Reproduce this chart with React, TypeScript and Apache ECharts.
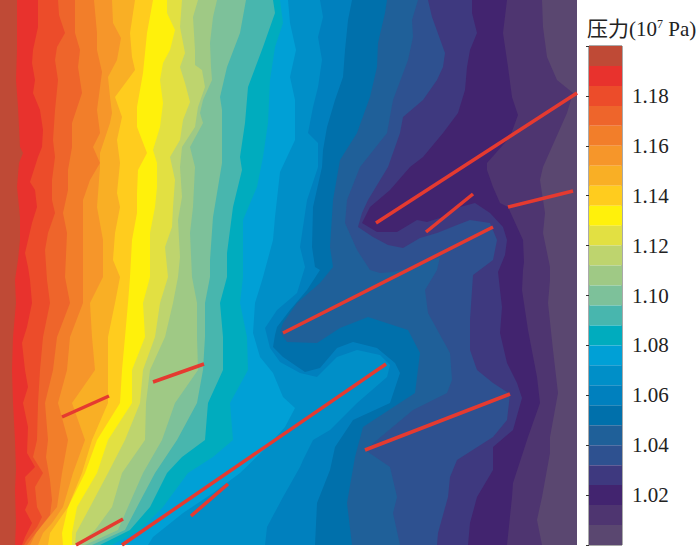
import React, { useEffect, useRef } from "react";
import * as echarts from "echarts";

const bandColors = ['#BF4A36','#E8322D','#EC4C2A','#EE652B','#F27E2A','#F6962A','#F9AF25','#FFCC1E','#FFF10B','#E2E042','#BED46E','#9FC985','#7DC19A','#48B6AE','#00ACBE','#00A0D6','#008FC8','#0080BE','#0070AB','#1F6099','#2E5190','#3E397F','#42246F','#4E3570','#5A4770'];
const pressureMax = 1.2;
const pressureMin = 1.0;
const bandStep = 0.008;
const fieldWidth = 577;
const fieldHeight = 545;

const contour1 = [[17,0],[17,50],[16,80],[18,107],[20,147],[23,153],[19,163],[17,187],[20,217],[20,240],[18,260],[15,280],[16,303],[13,337],[12,370],[13,403],[15,440],[16,470],[15,490],[16,523],[15,545]];
const contour2 = [[38,0],[38,27],[33,50],[32,63],[35,80],[33,93],[40,110],[43,130],[42,147],[38,157],[30,182],[35,190],[37,207],[32,223],[25,253],[28,267],[30,280],[32,303],[27,327],[22,343],[25,370],[28,387],[23,403],[28,427],[27,453],[35,467],[25,477],[28,503],[25,510],[32,523],[25,537],[22,545]];
const contour3 = [[58,0],[59,15],[65,33],[57,47],[55,60],[58,80],[55,110],[53,140],[55,157],[52,180],[52,200],[55,213],[48,233],[45,250],[47,280],[50,303],[43,337],[40,370],[38,403],[37,440],[33,457],[43,473],[35,487],[37,507],[42,517],[37,527],[27,540],[24,545]];
const contour4 = [[75,0],[75,33],[80,50],[78,67],[82,93],[72,123],[72,147],[68,170],[68,190],[63,213],[67,233],[65,277],[70,303],[57,337],[53,370],[45,403],[48,440],[46,457],[50,480],[52,500],[50,515],[42,525],[32,538],[27,545]];
const contour5 = [[94,0],[97,33],[97,50],[102,72],[97,110],[100,133],[93,147],[100,163],[90,180],[83,200],[83,227],[83,277],[83,303],[70,337],[67,370],[58,403],[68,440],[62,473],[57,507],[36,533],[30,545]];
const contour6 = [[112,0],[113,23],[121,38],[117,60],[108,77],[110,97],[112,113],[110,123],[100,153],[100,167],[97,207],[103,240],[103,277],[90,303],[92,337],[95,370],[72,403],[85,440],[73,473],[63,507],[52,523],[43,533],[38,545]];
const contour7 = [[135,0],[130,33],[132,57],[135,70],[115,97],[122,117],[117,140],[120,163],[117,193],[120,207],[115,233],[113,260],[120,277],[115,303],[108,337],[108,370],[108,403],[92,440],[82,473],[68,507],[50,533],[48,545]];
const contour8 = [[153,0],[147,33],[143,73],[137,107],[137,127],[147,153],[138,170],[137,193],[137,213],[132,240],[130,277],[128,303],[125,337],[122,370],[120,403],[97,440],[85,473],[68,507],[62,533],[63,545]];
const contour9 = [[167,0],[167,13],[175,30],[170,50],[163,63],[160,80],[163,103],[160,127],[153,150],[157,163],[157,187],[155,207],[150,233],[150,277],[143,303],[145,337],[132,370],[132,403],[108,440],[97,473],[77,507],[72,533],[72,545]];
const contour10 = [[182,0],[180,27],[185,53],[180,67],[185,83],[190,102],[183,120],[180,140],[170,157],[175,180],[173,207],[172,227],[165,247],[168,277],[160,303],[155,337],[143,370],[140,403],[125,440],[108,473],[90,507],[76,533],[75,545]];
const contour11 = [[198,0],[193,17],[195,50],[195,65],[202,70],[205,87],[198,107],[195,127],[182,147],[180,167],[182,197],[178,220],[180,257],[178,277],[173,303],[165,337],[150,370],[146,403],[145,440],[122,473],[112,507],[95,530],[78,545]];
const contour12 = [[217,0],[213,17],[210,43],[211,67],[212,80],[203,100],[200,113],[203,123],[190,147],[195,167],[193,207],[190,233],[192,277],[197,303],[197,337],[198,370],[175,403],[162,440],[143,473],[128,507],[118,530],[85,545]];
const contour13 = [[246,0],[240,33],[227,67],[220,97],[222,110],[222,143],[222,163],[217,193],[213,217],[210,260],[210,277],[205,303],[205,337],[203,370],[197,403],[177,440],[155,473],[137,507],[125,530],[92,545]];
const contour14 = [[273,0],[275,13],[263,47],[248,87],[245,123],[240,157],[242,170],[233,207],[227,253],[227,277],[220,303],[223,337],[223,370],[208,403],[205,440],[182,457],[167,473],[150,507],[130,530],[100,545]];
const contour15 = [[280,0],[283,23],[275,47],[270,80],[268,123],[263,157],[257,187],[243,220],[243,277],[240,303],[247,337],[248,370],[230,403],[233,440],[213,457],[188,473],[163,507],[140,530],[112,545]];
const contour16 = [[288,0],[290,23],[296,50],[290,77],[295,100],[295,140],[280,172],[278,190],[275,217],[273,240],[263,277],[260,287],[255,303],[253,333],[260,357],[273,373],[283,397],[295,408],[285,427],[267,447],[240,473],[213,493],[183,513],[153,537],[148,545]];
const contour17 = [[320,0],[323,17],[318,37],[322,60],[318,87],[313,107],[308,133],[318,143],[318,167],[307,200],[300,247],[305,267],[297,293],[277,310],[265,328],[270,348],[280,362],[300,373],[317,377],[337,357],[357,350],[380,355],[390,365],[387,377],[357,403],[330,430],[313,440],[303,460],[300,467],[283,497],[267,527],[265,545]];
const contour18 = [[352,0],[348,20],[345,50],[343,77],[335,100],[327,127],[323,150],[322,167],[313,207],[312,247],[315,267],[320,270],[307,290],[290,310],[277,327],[275,335],[273,347],[283,357],[305,372],[320,368],[337,348],[353,342],[377,348],[395,363],[400,373],[390,403],[353,420],[335,447],[330,470],[317,503],[315,545]];
const contour19 = [[387,0],[385,13],[378,43],[377,67],[370,97],[357,133],[340,160],[333,200],[330,247],[333,267],[320,283],[297,303],[283,323],[280,332],[287,342],[317,343],[340,328],[368,317],[408,330],[420,353],[415,393],[363,427],[355,457],[347,503],[352,545]];
const contour20 = [[418,0],[412,20],[413,37],[408,60],[393,100],[387,133],[360,167],[347,200],[345,223],[357,250],[370,270],[380,273],[393,272],[413,267],[440,257],[437,270],[425,290],[428,313],[450,353],[452,380],[447,393],[413,410],[365,450],[390,467],[397,497],[393,513],[400,545]];
const contour21 = [[428,0],[432,17],[445,53],[443,67],[437,80],[423,100],[403,117],[400,133],[388,167],[368,200],[362,213],[358,227],[373,237],[388,245],[403,248],[420,238],[437,233],[457,225],[470,220],[490,223],[497,240],[493,260],[473,275],[470,320],[470,350],[477,370],[493,383],[510,394],[507,420],[493,437],[457,460],[450,477],[448,497],[438,533],[437,545]];
const contour22 = [[472,0],[472,13],[477,33],[470,50],[467,67],[465,90],[458,113],[443,133],[423,157],[410,167],[390,190],[370,207],[362,223],[377,232],[397,232],[417,220],[427,222],[443,217],[460,207],[475,203],[490,213],[503,227],[507,240],[505,255],[498,272],[500,290],[502,307],[500,333],[507,363],[517,383],[522,398],[513,430],[493,447],[493,470],[477,497],[470,523],[468,545]];
const contour23 = [[507,0],[503,33],[508,67],[512,97],[518,115],[510,137],[487,163],[487,170],[493,187],[500,203],[508,207],[523,240],[524,262],[523,270],[522,290],[528,330],[537,377],[540,403],[528,437],[513,483],[512,497],[507,545]];
const contour24 = [[542,0],[543,27],[547,57],[557,80],[573,93],[567,113],[543,167],[540,180],[545,213],[543,233],[550,267],[550,280],[548,303],[553,350],[558,393],[550,437],[550,453],[542,497],[537,520],[542,545]];
const contours = [contour1,contour2,contour3,contour4,contour5,contour6,contour7,contour8,contour9,contour10,contour11,contour12,contour13,contour14,contour15,contour16,contour17,contour18,contour19,contour20,contour21,contour22,contour23,contour24];

const fracture1 = [[376,223],[577,93]];
const fracture2 = [[283,333],[493,227]];
const fracture3 = [[386,364],[122,545]];
const fracture4 = [[365,450],[510,394]];
const fracture5 = [[426,232],[473,194]];
const fracture6 = [[508,207],[573,191]];
const fracture7 = [[62,417],[109,396]];
const fracture8 = [[153,382],[204,364]];
const fracture9 = [[76,545],[123,519]];
const fracture10 = [[191,516],[228,484]];
const fractures = [fracture1,fracture2,fracture3,fracture4,fracture5,fracture6,fracture7,fracture8,fracture9,fracture10];

const serif = '"Liberation Serif", "Noto Sans CJK SC", serif';

export default function App() {
  const ref = useRef<HTMLDivElement>(null);
  useEffect(() => {
    const chart = echarts.init(ref.current!, null, { renderer: "svg" });
    const order = contours.map((_, i) => contours.length - 1 - i);
    chart.setOption({
      animation: false,
      backgroundColor: "#ffffff",
      title: {
        left: 587,
        top: 18,
        padding: 0,
        text: "{a|压力}{b|(10}{c|7}{b| Pa)}",
        textStyle: {
          fontWeight: "normal",
          rich: {
            a: { fontFamily: serif, fontSize: 21, fontWeight: "normal", color: "#222", verticalAlign: "bottom" },
            b: { fontFamily: serif, fontSize: 21, fontWeight: "normal", color: "#222", verticalAlign: "bottom" },
            c: { fontFamily: serif, fontSize: 12, fontWeight: "normal", color: "#222", verticalAlign: "top" },
          },
        },
      },
      grid: [
        { left: 0, top: 0, width: fieldWidth, height: fieldHeight, show: true, backgroundColor: bandColors[24], borderWidth: 0 },
        { left: 589, top: 46, width: 33, height: 499, show: true, borderColor: "#555", borderWidth: 1 },
      ],
      xAxis: [
        { gridIndex: 0, type: "value", min: 0, max: fieldWidth, show: false },
        { gridIndex: 1, type: "value", min: 0, max: 1, show: false },
      ],
      yAxis: [
        { gridIndex: 0, type: "value", min: 0, max: fieldHeight, inverse: true, show: false },
        {
          gridIndex: 1, type: "value", min: pressureMin, max: pressureMax, interval: 0.02, position: "right",
          splitLine: { show: false },
          axisLine: { show: false },
          axisTick: { show: true, inside: true, length: 3, lineStyle: { color: "#333", width: 1 } },
          axisLabel: {
            fontFamily: serif, fontSize: 21, color: "#222", margin: 10,
            formatter: (v: number) => (v > 1.001 && v < 1.199 ? v.toFixed(2) : ""),
          },
          z: 5,
        },
      ],
      series: [
        {
          type: "custom",
          xAxisIndex: 0,
          yAxisIndex: 0,
          clip: true,
          silent: true,
          data: order.map((i) => [i]),
          encode: { x: 0, y: 0 },
          renderItem: (_p: any, api: any) => {
            const i = api.value(0);
            const pts = contours[i].concat([[0, fieldHeight], [0, 0]]).map((p) => api.coord(p));
            return { type: "polygon", shape: { points: pts }, style: { fill: bandColors[i] } };
          },
        },
        ...fractures.map((f) => ({
          type: "line",
          xAxisIndex: 0,
          yAxisIndex: 0,
          data: f,
          symbol: "none",
          silent: true,
          lineStyle: { color: "#E53A30", width: 3.5 },
          z: 4,
        })),
        {
          type: "custom",
          xAxisIndex: 1,
          yAxisIndex: 1,
          silent: true,
          data: bandColors.map((_, i) => [0.5, pressureMax - i * bandStep]),
          encode: { x: 0, y: 1 },
          renderItem: (p: any, api: any) => {
            const top = api.coord([0, api.value(1)]);
            const bottom = api.coord([1, api.value(1) - bandStep]);
            return {
              type: "rect",
              shape: { x: top[0], y: top[1], width: bottom[0] - top[0], height: bottom[1] - top[1] },
              style: { fill: bandColors[p.dataIndex] },
            };
          },
        },
      ],
    });
    return () => chart.dispose();
  }, []);
  return <div ref={ref} style={{ position: "fixed", left: 0, top: 0, width: 700, height: 550 }} />;
}
